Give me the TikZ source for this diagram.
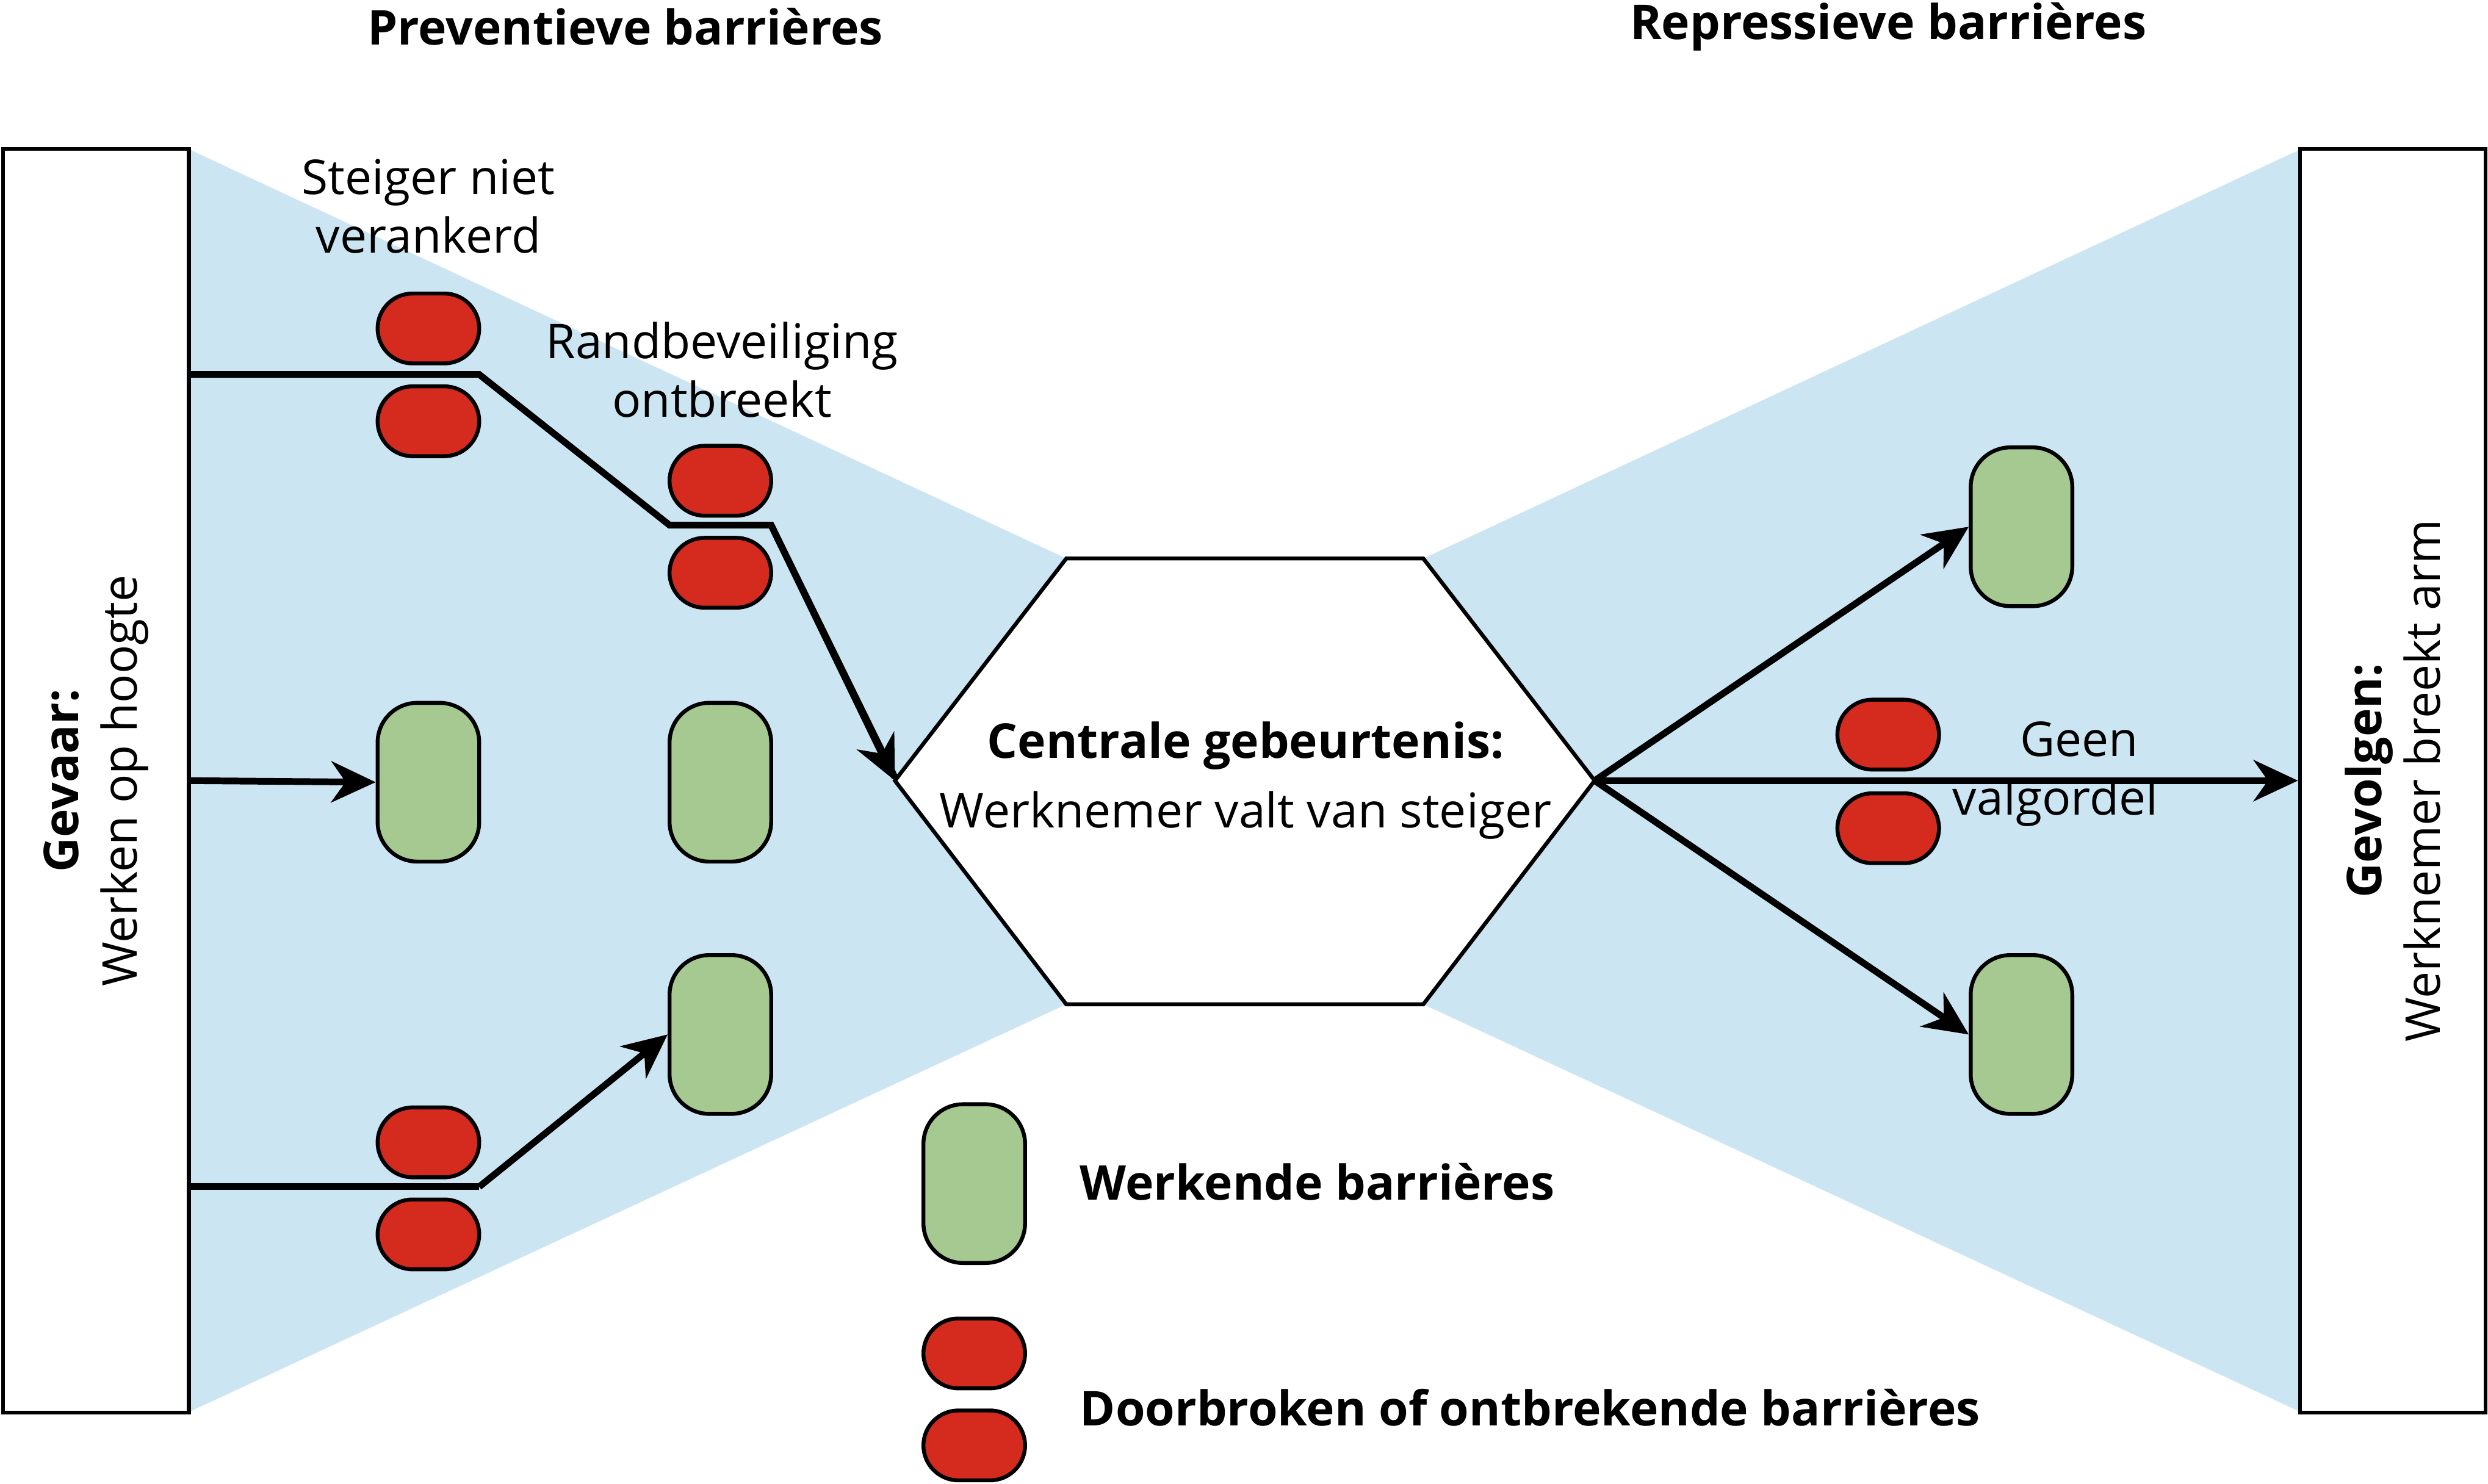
\documentclass[tikz,border=0pt]{standalone}
\usepackage{fontspec}
\setmainfont{Open Sans}
\usepackage{xcolor}
\usetikzlibrary{shapes.geometric, arrows.meta, positioning, calc}
\definecolor{bowblue}{HTML}{CBE6F2}
\definecolor{barred}{HTML}{D52B1E}
\definecolor{bargreen}{HTML}{A5C990}

\begin{document}
\begin{tikzpicture}[x=0.01cm, y=-0.01cm, font=\fontsize{8.6}{10.5}\selectfont]
    % Styles
    \tikzstyle{side} = [rectangle, draw, line width=0.7pt, fill=white, minimum width=1.17cm, minimum height=7.96cm, inner sep=0pt]
    \tikzstyle{broken} = [rectangle, draw, line width=0.7pt, fill=barred, rounded corners=2.2mm, minimum width=0.64cm, minimum height=0.44cm, inner sep=0pt]
    \tikzstyle{working} = [rectangle, draw, line width=0.7pt, fill=bargreen, rounded corners=2.5mm, minimum width=0.64cm, minimum height=1.0cm, inner sep=0pt]
    \tikzstyle{line} = [draw, line width=1.2pt, -{Stealth[length=2.8mm, width=2.6mm]}]
    \tikzstyle{label} = [align=center, inner sep=0pt]

    \useasboundingbox (0,0) rectangle (1568,935);

    % --- BOW TIE ---
    \fill [bowblue] (119,94) -- (672,352) -- (672,633) -- (119,890) -- cycle;
    \fill [bowblue] (1450,94) -- (897,352) -- (897,633) -- (1450,890) -- cycle;
    \node [side] (gevaar) at (60.5,492) {};
    \node [side] (gevolg) at (1508,492) {};
    \node [rotate=90, label] at (gevaar) {\textbf{Gevaar:}\\Werken op hoogte};
    \node [rotate=90, label] at (gevolg) {\textbf{Gevolgen:}\\Werknemer breekt arm};
    \draw [line width=0.7pt, fill=white] (672,352) -- (897,352) -- (1005,492) -- (897,633) -- (672,633) -- (564,492) -- cycle;
    \node [label] (event) at (785,492) {\textbf{Centrale gebeurtenis:}\\[2pt]Werknemer valt van steiger};
    \coordinate (left) at (564,492);
    \coordinate (right) at (1005,492);

    % --- HEADERS ---
    \node [label] at (394,17) {\textbf{Preventieve barrières}};
    \node [label] at (1190,17) {\textbf{Repressieve barrières}};

    % --- PREVENTIVE BARRIERS ---
    \node [broken] (r1a) at (270,207) {};
    \node [broken] (r1b) at (270,265.5) {};
    \node [broken] (r2a) at (454,303) {};
    \node [broken] (r2b) at (454,361) {};
    \node [broken] (r3a) at (270,720) {};
    \node [broken] (r3b) at (270,778) {};
    \node [working] (g1) at (270,493) {};
    \node [working] (g2) at (454,493) {};
    \node [working] (g3) at (454,652) {};
    \node [label] at (270,130) {Steiger niet\\verankerd};
    \node [label] at (455,233) {Randbeveiliging\\ontbreekt};

    % --- REPRESSIVE BARRIERS ---
    \node [broken] (r4a) at (1190,463) {};
    \node [broken] (r4b) at (1190,522) {};
    \node [working] (g4) at (1274,332) {};
    \node [working] (g5) at (1274,652) {};
    \node [label, anchor=west] at (1230,488) {\hspace*{0.3cm}Geen\\valgordel};

    % --- PATHS ---
    \draw [line width=1.2pt] (119,236) -- (302,236) -- (422,331) -- (486,331) -- ($(left)+(0,-2)$);
    \path [line] (486,331) -- (left);
    \path [line] (119,492) -- (g1.west);
    \draw [line width=1.2pt] (119,748) -- (302,748);
    \path [line] (302,748) -- (g3.west);
    \path [line] (right) -- (g4.west);
    \path [line] (right) -- (gevolg.west);
    \path [line] (right) -- (g5.west);

    % --- LEGEND ---
    \node [working] (lg) at (614,746) {};
    \node [broken] (lr1) at (614,853) {};
    \node [broken] (lr2) at (614,911) {};
    \node [label, anchor=west] at (680,745) {\textbf{Werkende barrières}};
    \node [label, anchor=west] at (680,887) {\textbf{Doorbroken of ontbrekende barrières}};
\end{tikzpicture}
\end{document}
